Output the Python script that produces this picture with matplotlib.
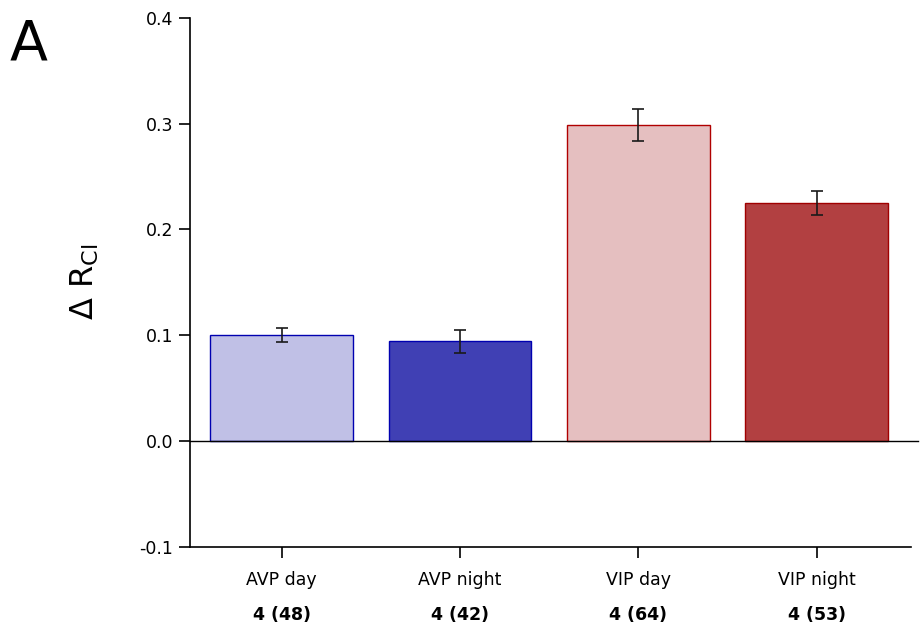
import matplotlib
matplotlib.use("Agg")
import matplotlib.pyplot as plt

# Bar data
groups = ["AVP day", "AVP night", "VIP day", "VIP night"]
counts = ["4 (48)", "4 (42)", "4 (64)", "4 (53)"]
means = [0.100, 0.094, 0.299, 0.225]
errors = [0.007, 0.011, 0.015, 0.011]
fill_colors = ["#C0C0E6", "#4040B4", "#E5BFC0", "#B24041"]
edge_colors = ["#0000B0", "#0000B0", "#B00000", "#A00000"]

plt.rcParams["font.family"] = ["DejaVu Sans"]

fig = plt.figure(figsize=(9.23, 6.33), dpi=100)
ax = fig.add_axes([190 / 923, 1 - 546.5 / 633, (911 - 190) / 923, (546.5 - 18) / 633])

x = list(range(len(groups)))
ax.bar(x, means, width=0.8, color=fill_colors, edgecolor=edge_colors, linewidth=1.0, zorder=2)
ax.errorbar(x, means, yerr=errors, fmt="none", ecolor="#1a1a1a", elinewidth=1.2,
            capsize=4.5, capthick=1.2, zorder=3)
ax.axhline(0, color="black", linewidth=1.0, zorder=4, clip_on=False, xmax=1.01)

ax.set_xlim(-0.515, 3.53)
ax.set_ylim(-0.1, 0.4)
ax.set_yticks([-0.1, 0.0, 0.1, 0.2, 0.3, 0.4])
ax.set_yticklabels(["-0.1", "0.0", "0.1", "0.2", "0.3", "0.4"])
ax.set_xticks(x)
ax.set_xticklabels([])

for side in ("top", "right"):
    ax.spines[side].set_visible(False)
for side in ("left", "bottom"):
    ax.spines[side].set_linewidth(1.2)

ax.tick_params(axis="both", direction="out", length=8, width=1.2, labelsize=12.5, pad=4)

for xi, g, c in zip(x, groups, counts):
    ax.annotate(g, xy=(xi, 0), xycoords=("data", "axes fraction"), xytext=(0, -24),
                textcoords="offset points", ha="center", va="center", fontsize=12.5)
    ax.annotate(c, xy=(xi, 0), xycoords=("data", "axes fraction"), xytext=(0, -49),
                textcoords="offset points", ha="center", va="center", fontsize=12.5,
                fontweight="bold")

ax.set_ylabel(r"$\Delta$ R$_{\mathregular{Cl}}$", fontsize=23, labelpad=28)
fig.text(10 / 923, 1 - 44 / 633, "A", fontsize=40, va="center", ha="left")

fig.savefig("out.png", dpi=100)
